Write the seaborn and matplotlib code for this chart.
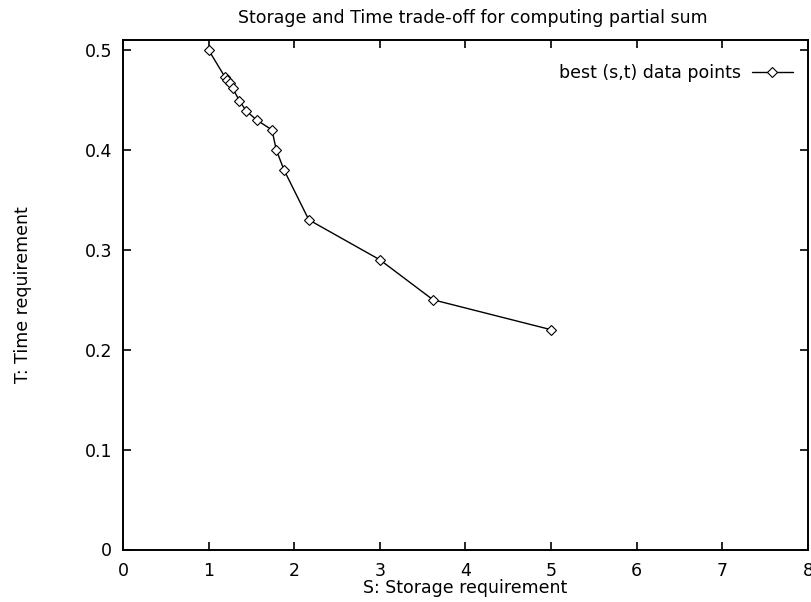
import matplotlib
matplotlib.use("Agg")
import matplotlib.pyplot as plt
import seaborn as sns
import pandas as pd

storage = [1.0, 1.19, 1.22, 1.25, 1.28, 1.36, 1.44, 1.56, 1.74, 1.79, 1.88, 2.17, 3.0, 3.62, 5.0]
time_req = [0.50, 0.473, 0.470, 0.467, 0.462, 0.449, 0.439, 0.430, 0.420, 0.400, 0.380, 0.330, 0.290, 0.250, 0.220]
x_ticks = [0, 1, 2, 3, 4, 5, 6, 7, 8]
y_ticks = [0, 0.1, 0.2, 0.3, 0.4, 0.5]
y_tick_labels = ["0", "0.1", "0.2", "0.3", "0.4", "0.5"]

sns.set_theme(style="ticks")
plt.rcParams['font.family'] = ['DejaVu Sans']
plt.rcParams['text.color'] = 'black'
plt.rcParams['axes.labelcolor'] = 'black'
FS = 12.5

df = pd.DataFrame({"S": storage, "T": time_req})

fig = plt.figure(figsize=(8.12, 6.02), dpi=100)
ax = fig.add_axes([123/812, (602-549.5)/602, (808-123)/812, (549.5-40)/602])

sns.lineplot(data=df, x="S", y="T", ax=ax, sort=False, color="black", linewidth=1.0,
             marker="D", markersize=5.5, markerfacecolor="white", markeredgecolor="black",
             markeredgewidth=0.8, label="best (s,t) data points")

ax.set_xlim(0, 8)
ax.set_ylim(0, 0.51)
ax.set_xticks(x_ticks)
ax.set_xticklabels([str(v) for v in x_ticks])
ax.set_yticks(y_ticks)
ax.set_yticklabels(y_tick_labels)
ax.tick_params(direction="in", top=True, right=True, length=6, width=1.2, labelsize=FS, colors="black")
ax.tick_params(axis="x", pad=9)
ax.tick_params(axis="y", pad=8)
for s in ax.spines.values():
    s.set_linewidth(1.4)
    s.set_color("black")

ax.set_xlabel("S: Storage requirement", fontsize=FS, labelpad=-1)
ax.set_ylabel("T: Time requirement", fontsize=FS)
ax.yaxis.set_label_coords((32 - 123) / 685, 0.5)
ax.set_title("Storage and Time trade-off for computing partial sum", fontsize=FS, pad=12,
             x=0.511, color="black")

leg = ax.legend(loc="upper right", frameon=False, markerfirst=False, fontsize=FS,
                handlelength=2.4, borderaxespad=0.45, handletextpad=0.6,
                bbox_to_anchor=(1.0, 1 - 9 / 509.5))

fig.savefig("out.png", dpi=100)
